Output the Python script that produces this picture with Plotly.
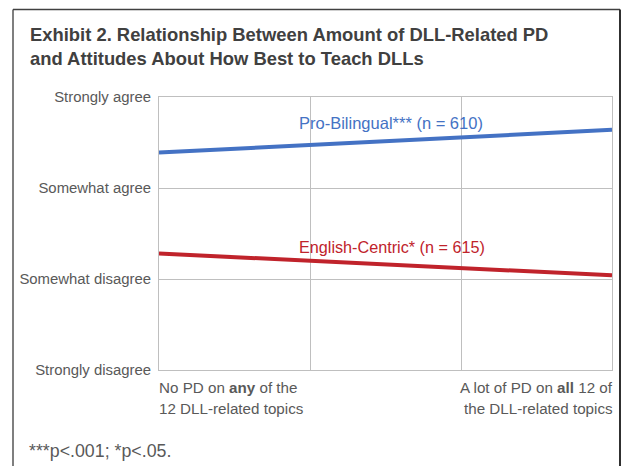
import plotly.graph_objects as go

# ---- data ----
x_positions = [0, 3]
pro_bilingual = [3.39, 3.64]
english_centric = [2.28, 2.04]
series_names = ["Pro-Bilingual*** (n = 610)", "English-Centric* (n = 615)"]
y_tick_values = [1, 2, 3, 4]
y_tick_labels = ["Strongly disagree", "Somewhat disagree", "Somewhat agree", "Strongly agree"]
x_tick_values = [0, 1, 2, 3]
x_end_labels = ["No PD on <b>any</b> of the<br>12 DLL-related topics",
                "A lot of PD on <b>all</b> 12 of<br>the DLL-related topics"]
title_text = ("Exhibit 2. Relationship Between Amount of DLL-Related PD<br>"
              "and Attitudes About How Best to Teach DLLs")
footnote = "***p<.001; *p<.05."

FONT = "Liberation Sans, Arial, sans-serif"
BLUE = "#4472C4"
RED = "#C0232B"
GRAY = "#595959"

fig = go.Figure()
fig.add_trace(go.Scatter(x=x_positions, y=pro_bilingual, mode="lines",
                         line=dict(color=BLUE, width=4), name=series_names[0],
                         showlegend=False, hoverinfo="skip"))
fig.add_trace(go.Scatter(x=x_positions, y=english_centric, mode="lines",
                         line=dict(color=RED, width=4), name=series_names[1],
                         showlegend=False, hoverinfo="skip"))

L, R, T, B = 159, 12, 97, 96
W, H = 624, 466
pw, ph = W - L - R, H - T - B

def px_x(p):
    return (p - L) / pw

def px_y(p):
    return (H - B - p) / ph

fig.update_layout(
    width=W, height=H,
    margin=dict(l=L, r=R, t=T, b=B, pad=0, autoexpand=False),
    paper_bgcolor="white", plot_bgcolor="white",
    font=dict(family=FONT, size=15, color=GRAY),
    xaxis=dict(range=[0, 3], tickvals=x_tick_values, showticklabels=False,
               showgrid=True, gridcolor="#BFBFBF", gridwidth=1, automargin=False,
               zeroline=False, showline=True, linecolor="#BFBFBF", mirror=True,
               fixedrange=True),
    yaxis=dict(range=[1, 4], tickvals=y_tick_values, ticktext=y_tick_labels,
               showgrid=True, gridcolor="#BFBFBF", gridwidth=1, automargin=False,
               zeroline=False, showline=True, linecolor="#BFBFBF", mirror=True,
               ticklabelstandoff=4, tickfont=dict(size=14.9, color=GRAY),
               fixedrange=True),
)

annotations = [
    dict(text=title_text, x=px_x(28), y=px_y(46), xref="paper", yref="paper",
         xanchor="left", yanchor="middle", align="left", showarrow=False,
         font=dict(family=FONT, size=18.4, color="#404040", weight="bold")),
    dict(text=series_names[0], x=px_x(297), y=px_y(123.3), xref="paper", yref="paper",
         xanchor="left", yanchor="middle", showarrow=False,
         font=dict(family=FONT, size=16.5, color=BLUE)),
    dict(text=series_names[1], x=px_x(297), y=px_y(246.7), xref="paper", yref="paper",
         xanchor="left", yanchor="middle", showarrow=False,
         font=dict(family=FONT, size=16.2, color=RED)),
    dict(text=footnote, x=px_x(27), y=px_y(451), xref="paper", yref="paper",
         xanchor="left", yanchor="middle", showarrow=False,
         font=dict(family=FONT, size=17.8, color=GRAY)),
]

# x end labels: one annotation per line so the line spacing matches
line_centers = [387, 408.5]
for i, label in enumerate(x_end_labels):
    for j, line in enumerate(label.split("<br>")):
        annotations.append(dict(
            text=line, x=0 if i == 0 else 1, y=px_y(line_centers[j]),
            xref="paper", yref="paper", xshift=-2 if i == 0 else 3,
            xanchor="left" if i == 0 else "right", yanchor="middle",
            showarrow=False, font=dict(family=FONT, size=15.2, color=GRAY)))
fig.update_layout(annotations=annotations)

shapes = [
    dict(type="line", xref="paper", yref="paper", x0=px_x(13), x1=px_x(13),
         y0=px_y(9.5), y1=px_y(470), line=dict(color="#7F7F7F", width=2)),
    dict(type="line", xref="paper", yref="paper", x0=px_x(13), x1=px_x(620),
         y0=px_y(9.5), y1=px_y(9.5), line=dict(color="#404040", width=1.5)),
    dict(type="line", xref="paper", yref="paper", x0=px_x(620), x1=px_x(620),
         y0=px_y(9.5), y1=px_y(470), line=dict(color="#303030", width=2)),
]
fig.update_layout(shapes=shapes)

fig.write_html("out.html", config=dict(displayModeBar=False),
               post_script="document.body.style.margin='0';document.body.style.padding='0';document.body.style.overflow='hidden';")
